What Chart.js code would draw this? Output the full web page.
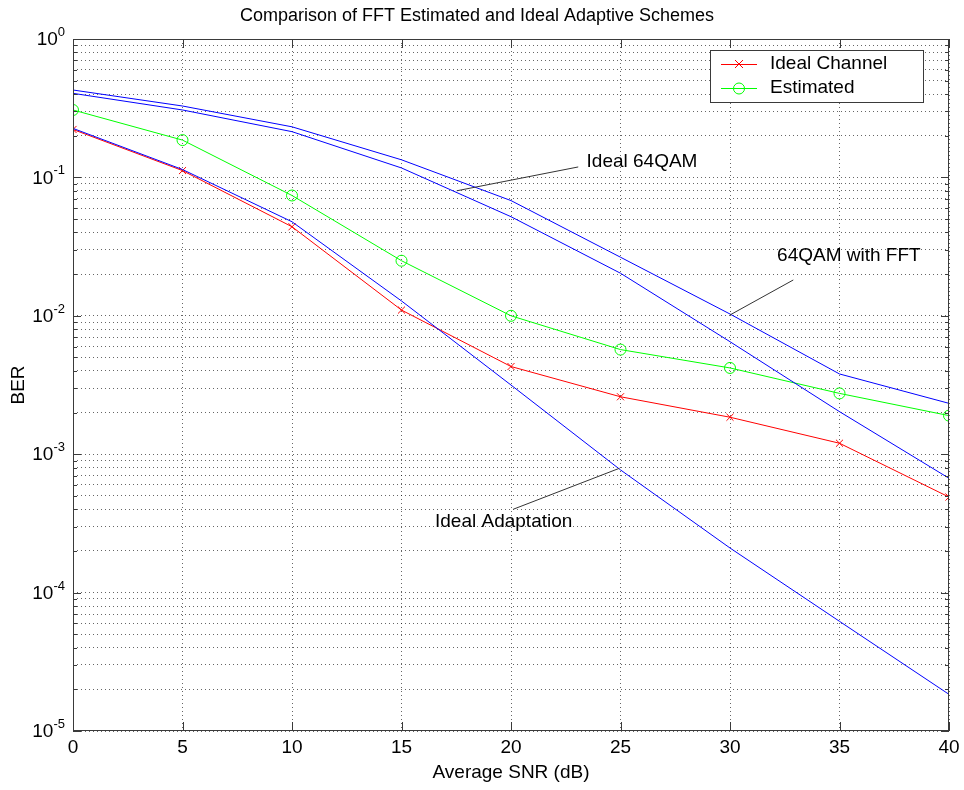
<!DOCTYPE html>
<html>
<head>
<meta charset="utf-8">
<title>Comparison of FFT Estimated and Ideal Adaptive Schemes</title>
<script src="https://cdn.jsdelivr.net/npm/chart.js@4.4.1/dist/chart.umd.min.js"></script>
<style>
  html, body { margin: 0; padding: 0; background: #fff; }
  canvas { display: block; }
</style>
</head>
<body>
<canvas id="berChart" width="964" height="790"></canvas>
<script>
// DATA
const snr = [0, 5, 10, 15, 20, 25, 30, 35, 40];
const idealChannel = [0.222, 0.112, 0.044, 0.011, 0.0043, 0.0026, 0.00185, 0.0012, 0.00049];
const estimated = [0.307, 0.186, 0.074, 0.025, 0.0100, 0.0057, 0.0042, 0.00275, 0.0019];
const ideal64qam = [0.405, 0.307, 0.214, 0.117, 0.052, 0.0203, 0.0065, 0.00203, 0.00067];
const fft64qam = [0.428, 0.328, 0.232, 0.134, 0.068, 0.0265, 0.0103, 0.0038, 0.00233];
const idealAdaptation = [0.226, 0.114, 0.0478, 0.0128, 0.00316, 0.00077, 0.00021, 0.000062, 0.0000184];

const xTicks = [0, 5, 10, 15, 20, 25, 30, 35, 40];
const yExponents = [-5, -4, -3, -2, -1, 0];
const yMantissas = [1, 2, 3, 4, 5, 6, 7, 8, 9];

const legendLabels = ['Ideal Channel', 'Estimated'];
const noteLabels = ['Ideal 64QAM', '64QAM with FFT', 'Ideal Adaptation'];
// DATA

const FONT = '"Liberation Sans", Arial, sans-serif';

// annotation anchors, in data units (snr, ber)
const noteText = [[23.45, 0.130], [32.15, 0.027], [16.53, 0.000325]];
const noteFrom = [[23.07, 0.119], [32.89, 0.01815], [20.1, 0.0004]];
const noteTo = [[17.52, 0.080], [30.0, 0.01014], [24.95, 0.000791]];

function toPoints(ys){
    return snr.map(function(x, i){ return {x: x, y: ys[i]}; });
}

function yTickValues(){
    const vals = [];
    yExponents.forEach(function(e){
        if(e === 0){ vals.push(1); return; }
        yMantissas.forEach(function(m){ vals.push(m * Math.pow(10, e)); });
    });
    return vals;
}

// FUNCTION FOR MATLAB STYLE FRAME, TICKS, LABELS, LEGEND
const matlabAxes = {
    id: 'matlabAxes',
    afterDraw: function(chart){
        const ctx = chart.ctx;
        const a = chart.chartArea;
        const xs = chart.scales.x;
        const ys = chart.scales.y;
        ctx.save();

        // frame
        ctx.strokeStyle = '#3a3a3a';
        ctx.lineWidth = 1;
        ctx.setLineDash([]);
        ctx.strokeRect(a.left + 0.5, a.top + 0.5, a.right - a.left - 1, a.bottom - a.top - 1);

        // inside ticks
        ctx.beginPath();
        xTicks.forEach(function(v){
            const px = Math.round(xs.getPixelForValue(v)) + 0.5;
            ctx.moveTo(px, a.bottom); ctx.lineTo(px, a.bottom - 9);
            ctx.moveTo(px, a.top); ctx.lineTo(px, a.top + 9);
        });
        yTickValues().forEach(function(v){
            const py = Math.round(ys.getPixelForValue(v)) + 0.5;
            const major = Math.abs(Math.log10(v) - Math.round(Math.log10(v))) < 1e-9;
            const len = major ? 8 : 4;
            ctx.moveTo(a.left, py); ctx.lineTo(a.left + len, py);
            ctx.moveTo(a.right, py); ctx.lineTo(a.right - len, py);
        });
        ctx.stroke();

        ctx.fillStyle = '#000';

        // x tick labels
        ctx.font = '19px ' + FONT;
        ctx.textAlign = 'center';
        ctx.textBaseline = 'middle';
        xTicks.forEach(function(v){
            ctx.fillText(String(v), xs.getPixelForValue(v), a.bottom + 17);
        });

        // y tick labels 10^e
        yExponents.forEach(function(e){
            const py = ys.getPixelForValue(Math.pow(10, e));
            const right = a.left - 8;
            ctx.font = '13px ' + FONT;
            const ew = ctx.measureText(String(e)).width;
            ctx.textAlign = 'right';
            ctx.textBaseline = 'alphabetic';
            ctx.fillText(String(e), right, py - 3);
            ctx.font = '19px ' + FONT;
            ctx.textBaseline = 'middle';
            ctx.fillText('10', right - ew, py + 1);
        });

        // axis titles
        ctx.font = '19px ' + FONT;
        ctx.textAlign = 'center';
        ctx.textBaseline = 'middle';
        ctx.fillText('Average SNR (dB)', (a.left + a.right) / 2, a.bottom + 42);
        ctx.save();
        ctx.translate(19, (a.top + a.bottom) / 2);
        ctx.rotate(-Math.PI / 2);
        ctx.fillText('BER', 0, 0);
        ctx.restore();

        // title
        ctx.font = '18px ' + FONT;
        ctx.fillText('Comparison of FFT Estimated and Ideal Adaptive Schemes', 477, 16);

        // annotations
        ctx.font = '19px ' + FONT;
        ctx.strokeStyle = '#333';
        ctx.lineWidth = 1;
        ctx.textAlign = 'left';
        noteLabels.forEach(function(txt, i){
            ctx.beginPath();
            ctx.moveTo(xs.getPixelForValue(noteFrom[i][0]), ys.getPixelForValue(noteFrom[i][1]));
            ctx.lineTo(xs.getPixelForValue(noteTo[i][0]), ys.getPixelForValue(noteTo[i][1]));
            ctx.stroke();
            ctx.fillText(txt, xs.getPixelForValue(noteText[i][0]), ys.getPixelForValue(noteText[i][1]));
        });

        // legend box
        const lx = a.right - 239, ly = a.top + 11, lw = 214, lh = 53;
        ctx.fillStyle = '#fff';
        ctx.fillRect(lx, ly, lw, lh);
        ctx.strokeStyle = '#3a3a3a';
        ctx.strokeRect(lx + 0.5, ly + 0.5, lw - 1, lh - 1);
        legendLabels.forEach(function(txt, i){
            const ds = chart.data.datasets.find(function(d){ return d.label === txt; });
            const rowY = ly + 14 + i * 24;
            ctx.strokeStyle = ds.borderColor;
            ctx.lineWidth = 1;
            ctx.beginPath();
            ctx.moveTo(lx + 11, rowY + 0.5); ctx.lineTo(lx + 47, rowY + 0.5);
            ctx.stroke();
            const cx = lx + 29;
            ctx.beginPath();
            if(ds.pointStyle === 'crossRot'){
                ctx.moveTo(cx - 4, rowY - 4); ctx.lineTo(cx + 4, rowY + 4);
                ctx.moveTo(cx + 4, rowY - 4); ctx.lineTo(cx - 4, rowY + 4);
            }else{
                ctx.arc(cx, rowY + 0.5, 5.5, 0, Math.PI * 2);
            }
            ctx.stroke();
            ctx.fillStyle = '#000';
            ctx.font = '19px ' + FONT;
            ctx.textBaseline = 'middle';
            ctx.fillText(txt, lx + 60, rowY);
        });

        ctx.restore();
    }
};
// FUNCTION FOR MATLAB STYLE FRAME, TICKS, LABELS, LEGEND

// GRAPH
function graph(){
    const ctx = document.getElementById('berChart').getContext('2d');
    new Chart(ctx, {
        type: 'line',
        data: {
            datasets: [
                { label: 'Ideal 64QAM', data: toPoints(ideal64qam), borderColor: '#0000ff', borderWidth: 1, pointRadius: 0 },
                { label: '64QAM with FFT', data: toPoints(fft64qam), borderColor: '#0000ff', borderWidth: 1, pointRadius: 0 },
                { label: 'Ideal Adaptation', data: toPoints(idealAdaptation), borderColor: '#0000ff', borderWidth: 1, pointRadius: 0 },
                { label: 'Ideal Channel', data: toPoints(idealChannel), borderColor: '#ff0000', borderWidth: 1,
                  pointStyle: 'crossRot', pointRadius: 5, pointBorderColor: '#ff0000', pointBorderWidth: 1 },
                { label: 'Estimated', data: toPoints(estimated), borderColor: '#00ff00', borderWidth: 1,
                  pointStyle: 'circle', pointRadius: 5.5, pointBorderColor: '#00ff00', pointBackgroundColor: 'rgba(0,0,0,0)', pointBorderWidth: 1 }
            ]
        },
        options: {
            responsive: false,
            animation: false,
            devicePixelRatio: 1,
            layout: { padding: { top: 39, right: 15, left: 0, bottom: 0 } },
            plugins: { legend: { display: false }, title: { display: false }, tooltip: { enabled: false } },
            elements: { line: { tension: 0 } },
            scales: {
                x: {
                    type: 'linear',
                    min: 0,
                    max: 40,
                    ticks: { display: false, stepSize: 5 },
                    grid: { color: 'rgba(0,0,0,0.6)', lineWidth: 1, drawTicks: false },
                    border: { display: false, dash: [1, 3] },
                    afterFit: function(scale){ scale.height = 59; }
                },
                y: {
                    type: 'logarithmic',
                    min: 0.00001,
                    max: 1,
                    ticks: { display: false, autoSkip: false },
                    grid: { color: 'rgba(0,0,0,0.6)', lineWidth: 1, drawTicks: false },
                    border: { display: false, dash: [1, 3] },
                    afterBuildTicks: function(scale){
                        scale.ticks = yTickValues().map(function(v){ return {value: v}; });
                    },
                    afterFit: function(scale){ scale.width = 73; }
                }
            }
        },
        plugins: [matlabAxes]
    });
}
// GRAPH

graph();
</script>
</body>
</html>
